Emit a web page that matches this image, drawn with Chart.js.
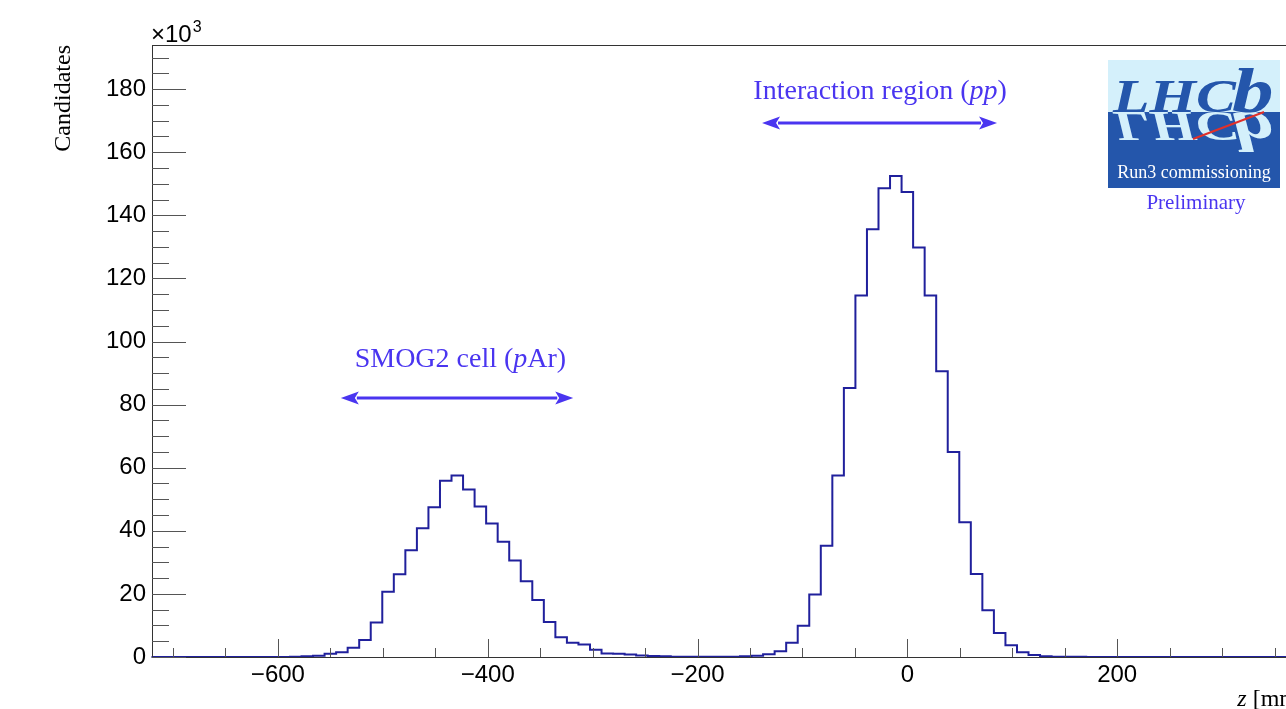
<!DOCTYPE html>
<html>
<head>
<meta charset="utf-8">
<script src="https://cdn.jsdelivr.net/npm/chart.js@4.4.1/dist/chart.umd.min.js"></script>
<style>
  html, body { margin: 0; padding: 0; background: #fff; overflow: hidden; }
  #wrap { width: 1340px; height: 709px; }
</style>
</head>
<body>
<div id="wrap"><canvas id="myChart" width="1340" height="709"></canvas></div>
<script>
// histogram: 100 bins of 11 mm starting at -720.5 mm, counts in units of 10^3
var binLow = -720.5;
var binWidth = 11;
var counts = [
  0, 0, 0, 0, 0, 0, 0, 0, 0, 0,
  0, 0, 0.1, 0.2, 0.4, 1.0, 1.5, 2.9, 5.4, 10.9,
  20.7, 26.2, 33.8, 40.8, 47.5, 55.9, 57.5, 53.1, 47.7, 42.3,
  36.5, 30.6, 24.0, 18.1, 11.1, 6.3, 4.5, 4.0, 2.3, 1.1,
  1.0, 0.8, 0.5, 0.3, 0.2, 0.1, 0.1, 0.1, 0.1, 0.1,
  0.1, 0.2, 0.4, 0.9, 1.8, 4.5, 9.9, 19.8, 35.3, 57.5,
  85.3, 114.6, 135.6, 148.6, 152.5, 147.4, 129.8, 114.6, 90.6, 65.0,
  42.7, 26.3, 14.8, 7.6, 3.7, 1.5, 0.6, 0.2, 0.1, 0.1,
  0.1, 0, 0, 0, 0, 0, 0, 0, 0, 0,
  0, 0, 0, 0, 0, 0, 0, 0, 0, 0
];
var xTicks = [-600, -400, -200, 0, 200];
var yTicks = [0, 20, 40, 60, 80, 100, 120, 140, 160, 180];
var xRange = [-720, 380];
var yRange = [0, 194];

var annoColor = '#4a35f0';
var histColor = '#20209c';

// step outline points at bin edges
var points = [];
for (var i = 0; i < counts.length; i++) {
  points.push({ x: binLow + i * binWidth, y: counts[i] });
}
points.push({ x: binLow + counts.length * binWidth, y: counts[counts.length - 1] });

function richText(ctx, parts, x, y, align, size) {
  var total = 0;
  parts.forEach(function (p) {
    ctx.font = (p[1] ? 'italic ' : '') + size + 'px "Liberation Serif"';
    total += ctx.measureText(p[0]).width;
  });
  var start = align === 'center' ? x - total / 2 : (align === 'right' ? x - total : x);
  ctx.textAlign = 'left';
  parts.forEach(function (p) {
    ctx.font = (p[1] ? 'italic ' : '') + size + 'px "Liberation Serif"';
    ctx.fillText(p[0], start, y);
    start += ctx.measureText(p[0]).width;
  });
}

function arrow(ctx, x1, x2, y) {
  var hl = 18, hw = 6.5;
  ctx.beginPath();
  ctx.moveTo(x1 + hl - 2, y); ctx.lineTo(x2 - hl + 2, y);
  ctx.lineWidth = 3; ctx.stroke();
  ctx.beginPath();
  ctx.moveTo(x1, y); ctx.lineTo(x1 + hl, y - hw); ctx.lineTo(x1 + hl - 4, y); ctx.lineTo(x1 + hl, y + hw); ctx.closePath();
  ctx.fill();
  ctx.beginPath();
  ctx.moveTo(x2, y); ctx.lineTo(x2 - hl, y - hw); ctx.lineTo(x2 - hl + 4, y); ctx.lineTo(x2 - hl, y + hw); ctx.closePath();
  ctx.fill();
}

function drawLogoText(ctx, bx) {
  ctx.save();
  ctx.textAlign = 'left';
  ctx.textBaseline = 'alphabetic';
  ctx.scale(1.3, 1);
  ctx.font = 'italic bold 46px "Liberation Serif"';
  ctx.fillText('LHC', (bx + 5) / 1.3, 0);
  var w = ctx.measureText('LHC').width;
  ctx.font = 'italic bold 64px "Liberation Serif"';
  ctx.fillText('b', (bx + 5) / 1.3 + w - 3, 0);
  ctx.restore();
}

var decor = {
  id: 'decor',
  afterDraw: function (chart) {
    var ctx = chart.ctx, a = chart.chartArea, x = chart.scales.x, y = chart.scales.y;
    ctx.save();
    // frame
    ctx.strokeStyle = '#333';
    ctx.lineWidth = 1;
    ctx.strokeRect(a.left + 0.5, a.top + 0.5, a.right - a.left, a.bottom - a.top);
    // y ticks (inward), major every 20, minor every 5
    ctx.strokeStyle = '#555';
    for (var v = 0; v <= yRange[1]; v += 5) {
      var py = Math.round(y.getPixelForValue(v)) + 0.5;
      var len = (v % 20 === 0) ? 34 : 17;
      ctx.beginPath(); ctx.moveTo(a.left, py); ctx.lineTo(a.left + len, py); ctx.stroke();
    }
    // x ticks, major every 200, minor every 50
    for (var u = -700; u <= xRange[1]; u += 50) {
      var px = Math.round(x.getPixelForValue(u)) + 0.5;
      var l2 = (u % 200 === 0) ? 18 : 9;
      ctx.beginPath(); ctx.moveTo(px, a.bottom); ctx.lineTo(px, a.bottom - l2); ctx.stroke();
    }

    ctx.fillStyle = '#000';
    // x10^3
    ctx.textBaseline = 'alphabetic';
    ctx.textAlign = 'left';
    ctx.font = '24px "Liberation Sans"';
    ctx.fillText('\u00d710', a.left - 1, a.top - 3);
    var w = ctx.measureText('\u00d710').width;
    ctx.font = '16px "Liberation Sans"';
    ctx.fillText('3', a.left - 1 + w + 1, a.top - 13);

    // y title
    ctx.save();
    ctx.translate(70, a.top);
    ctx.rotate(-Math.PI / 2);
    ctx.textAlign = 'right';
    ctx.font = '24px "Liberation Serif"';
    ctx.fillText('Candidates', 0, 0);
    ctx.restore();

    // x title
    richText(ctx, [['z', true], [' [mm]', false]], a.right, 706, 'right', 24);

    // annotations
    ctx.fillStyle = annoColor;
    ctx.strokeStyle = annoColor;
    richText(ctx, [['SMOG2 cell (', false], ['p', true], ['Ar)', false]],
      x.getPixelForValue(-426), y.getPixelForValue(92), 'center', 28);
    arrow(ctx, x.getPixelForValue(-540), x.getPixelForValue(-318.5), Math.round(y.getPixelForValue(82)));
    richText(ctx, [['Interaction region (', false], ['pp', true], [')', false]],
      x.getPixelForValue(-26), y.getPixelForValue(177), 'center', 28);
    arrow(ctx, x.getPixelForValue(-138.5), x.getPixelForValue(85.5), Math.round(y.getPixelForValue(169.2)));

    // LHCb logo
    var bx = 1108, by = 60, bw = 172, mid = 112, bb = 188;
    ctx.fillStyle = '#d4f0fb';
    ctx.fillRect(bx, by, bw, mid - by);
    ctx.fillStyle = '#2456ab';
    ctx.fillRect(bx, mid, bw, bb - mid);
    // reflection
    ctx.save();
    ctx.beginPath(); ctx.rect(bx, mid, bw, bb - mid); ctx.clip();
    ctx.translate(0, mid);
    ctx.scale(1, -0.9);
    ctx.fillStyle = '#d4f0fb';
    drawLogoText(ctx, bx);
    ctx.restore();
    ctx.save();
    ctx.translate(0, mid);
    ctx.fillStyle = '#2456ab';
    drawLogoText(ctx, bx);
    ctx.restore();
    ctx.strokeStyle = '#e0302a';
    ctx.lineWidth = 2;
    ctx.beginPath(); ctx.moveTo(1193, 139); ctx.lineTo(1264, 112); ctx.stroke();
    ctx.fillStyle = '#fff';
    ctx.textAlign = 'center';
    ctx.font = '18px "Liberation Serif"';
    ctx.fillText('Run3 commissioning', bx + bw / 2, 178);
    ctx.fillStyle = annoColor;
    ctx.font = '21px "Liberation Serif"';
    ctx.fillText('Preliminary', bx + bw / 2 + 2, 209);
    ctx.restore();
  }
};

var ctx = document.getElementById('myChart');
var myChart = new Chart(ctx, {
  type: 'line',
  data: {
    datasets: [{
      label: 'z',
      data: points,
      stepped: 'before',
      borderColor: histColor,
      borderWidth: 2,
      pointRadius: 0,
      fill: false,
      clip: 4
    }]
  },
  options: {
    responsive: false,
    animation: false,
    devicePixelRatio: 1,
    layout: { padding: { left: 0, top: 45, right: 34, bottom: 0 } },
    plugins: { legend: { display: false }, tooltip: { enabled: false } },
    scales: {
      x: {
        type: 'linear',
        min: xRange[0],
        max: xRange[1],
        grid: { display: false, drawTicks: false },
        border: { display: false },
        afterFit: function (s) { s.height = 52; },
        afterBuildTicks: function (s) { s.ticks = xTicks.map(function (v) { return { value: v }; }); },
        ticks: {
          padding: 4,
          color: '#000',
          font: { family: 'Liberation Sans', size: 24 },
          maxRotation: 0,
          callback: function (v) { return String(v).replace('-', '\u2212'); }
        }
      },
      y: {
        min: yRange[0],
        max: yRange[1],
        grid: { display: false, drawTicks: false },
        border: { display: false },
        afterFit: function (s) { s.width = 152; },
        afterBuildTicks: function (s) { s.ticks = yTicks.map(function (v) { return { value: v }; }); },
        ticks: {
          padding: 6,
          color: '#000',
          font: { family: 'Liberation Sans', size: 24 }
        }
      }
    }
  },
  plugins: [decor]
});
</script>
</body>
</html>
